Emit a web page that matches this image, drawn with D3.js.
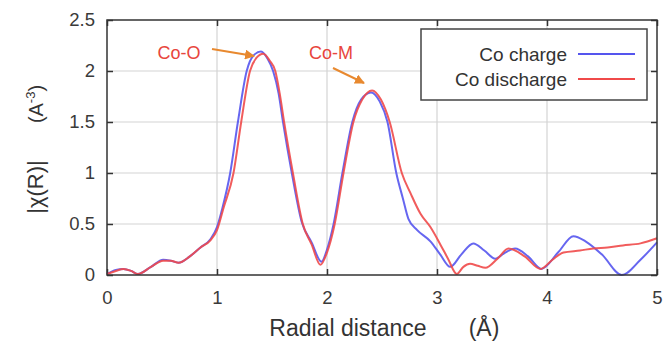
<!DOCTYPE html>
<html><head><meta charset="utf-8">
<script src="https://cdn.jsdelivr.net/npm/d3@7"></script>
<style>body{margin:0;background:#fff}svg{display:block}text{font-family:"Liberation Sans",Arial,sans-serif}</style>
</head><body>
<script>
const xTicks = [0,1,2,3,4,5];
const yTicks = [0,0.5,1,1.5,2,2.5];
const yTickLabels = ["0","0.5","1","1.5","2","2.5"];
const seriesNames = ["Co charge","Co discharge"];
const seriesColors = ["#5555ee","#f04a4a"];

const chargeX = [0,0.08,0.15,0.22,0.28,0.4,0.51,0.58,0.65,0.75,0.85,0.94,1.0,1.05,1.12,1.19,1.27,1.33,1.40,1.46,1.51,1.56,1.60,1.68,1.77,1.86,1.95,2.0,2.06,2.14,2.23,2.31,2.40,2.48,2.55,2.63,2.69,2.74,2.82,2.94,3.03,3.12,3.22,3.33,3.43,3.53,3.62,3.71,3.83,3.95,4.1,4.24,4.35,4.5,4.68,4.85,5.0];
const chargeY = [0.01,0.05,0.06,0.04,0.01,0.08,0.15,0.14,0.12,0.18,0.27,0.35,0.47,0.66,1.0,1.5,2.0,2.15,2.19,2.12,2.0,1.78,1.5,1.0,0.52,0.32,0.13,0.25,0.5,1.0,1.5,1.72,1.79,1.7,1.5,1.0,0.75,0.55,0.44,0.33,0.2,0.08,0.2,0.31,0.24,0.16,0.22,0.26,0.18,0.06,0.22,0.38,0.33,0.2,0.0,0.15,0.32];

const dischargeX = [0,0.08,0.15,0.22,0.28,0.4,0.51,0.58,0.65,0.75,0.85,0.94,1.0,1.06,1.15,1.22,1.30,1.36,1.42,1.48,1.53,1.57,1.61,1.69,1.78,1.86,1.94,2.0,2.07,2.15,2.24,2.32,2.41,2.49,2.57,2.68,2.76,2.85,2.94,3.03,3.10,3.18,3.24,3.30,3.37,3.44,3.55,3.65,3.8,3.94,4.05,4.15,4.3,4.42,4.55,4.69,4.85,5.0];
const dischargeY = [0.01,0.04,0.06,0.04,0.01,0.08,0.14,0.14,0.12,0.18,0.27,0.34,0.44,0.66,1.0,1.5,2.0,2.13,2.17,2.1,2.0,1.78,1.5,1.0,0.5,0.3,0.1,0.22,0.5,1.0,1.5,1.72,1.81,1.72,1.5,1.0,0.8,0.6,0.47,0.3,0.16,0.01,0.08,0.11,0.09,0.07,0.16,0.26,0.18,0.06,0.15,0.22,0.24,0.26,0.27,0.29,0.31,0.36];

const W = 665, H = 346;
const L = 107, R = 657, T = 20, B = 275;
const svg = d3.select("body").append("svg").attr("width", W).attr("height", H);
const x = d3.scaleLinear().domain([0,5]).range([L,R]);
const y = d3.scaleLinear().domain([0,2.5]).range([B,T]);

// grid
const g = svg.append("g");
g.selectAll(".vg").data(xTicks.slice(1,-1)).join("line")
  .attr("x1", d=>x(d)).attr("x2", d=>x(d)).attr("y1", T).attr("y2", B)
  .attr("stroke", "#d4d4d4").attr("stroke-width", 1.2);
g.selectAll(".hg").data(yTicks.slice(1,-1)).join("line")
  .attr("x1", L).attr("x2", R).attr("y1", d=>y(d)).attr("y2", d=>y(d))
  .attr("stroke", "#d4d4d4").attr("stroke-width", 1.2);

// axes with inward ticks
const ax = svg.append("g").attr("transform", `translate(0,${B})`)
  .call(d3.axisBottom(x).tickValues(xTicks).tickSize(-6).tickPadding(16).tickFormat(d3.format("d")));
const axTop = svg.append("g").attr("transform", `translate(0,${T})`)
  .call(d3.axisTop(x).tickValues(xTicks).tickSize(-6).tickFormat(""));
const ay = svg.append("g").attr("transform", `translate(${L},0)`)
  .call(d3.axisLeft(y).tickValues(yTicks).tickSize(-6).tickPadding(12).tickFormat((d,i)=>yTickLabels[i]));
const ayR = svg.append("g").attr("transform", `translate(${R},0)`)
  .call(d3.axisRight(y).tickValues(yTicks).tickSize(-6).tickFormat(""));
[ax,axTop,ay,ayR].forEach(a=>{
  a.select(".domain").remove();
  a.selectAll(".tick line").attr("stroke","#333").attr("stroke-width",1.5);
  a.selectAll("text").attr("font-size",18.5).attr("fill","#3a3a3a").attr("font-family","Liberation Sans, Arial, sans-serif");
});

// data lines
const line = d3.line().x(d=>x(d[0])).y(d=>y(d[1])).curve(d3.curveMonotoneX);
const series = [d3.zip(chargeX, chargeY), d3.zip(dischargeX, dischargeY)];
svg.selectAll(".ser").data(series).join("path")
  .attr("d", line).attr("fill","none")
  .attr("stroke",(d,i)=>seriesColors[i]).attr("stroke-width",2).attr("stroke-opacity",0.9);

// frame
svg.append("rect").attr("x",L).attr("y",T).attr("width",R-L).attr("height",B-T)
  .attr("fill","none").attr("stroke","#333").attr("stroke-width",1.5);

// legend
const lg = svg.append("g");
lg.append("rect").attr("x",421).attr("y",29).attr("width",226).attr("height",71)
  .attr("fill","#fff").attr("stroke","#444").attr("stroke-width",1.5);
seriesNames.forEach((n,i)=>{
  lg.append("text").attr("x",567).attr("y",61+i*25).attr("text-anchor","end")
    .attr("font-size",19).attr("fill","#333").text(n);
  lg.append("line").attr("x1",578).attr("x2",635).attr("y1",54+i*25).attr("y2",54+i*25)
    .attr("stroke",seriesColors[i]).attr("stroke-width",1.8);
});

// axis titles
svg.append("text").attr("x",348).attr("y",336).attr("text-anchor","middle")
  .attr("font-size",23).attr("fill","#333").text("Radial distance");
svg.append("text").attr("x",484).attr("y",336).attr("text-anchor","middle")
  .attr("font-size",23).attr("fill","#333").text("(Å)");
svg.append("text").attr("transform","translate(43,187) rotate(-90)").attr("text-anchor","middle")
  .attr("font-size",22).attr("fill","#333").text("|χ(R)|");
const yl2 = svg.append("text").attr("transform","translate(43,104) rotate(-90)").attr("text-anchor","middle")
  .attr("font-size",20).attr("fill","#333");
yl2.append("tspan").text("(A");
yl2.append("tspan").attr("font-size",13).attr("dy",-8).text("-3");
yl2.append("tspan").attr("dy",8).text(")");

// annotations
svg.append("defs").append("marker").attr("id","arr").attr("viewBox","0 0 10 10")
  .attr("refX",9).attr("refY",5).attr("markerWidth",5).attr("markerHeight",5).attr("orient","auto")
  .append("path").attr("d","M0,0 L10,5 L0,10 z").attr("fill","#e8892f");
const ann = [
  {label:"Co-O", tx:179, ty:59, x1:212, y1:49, x2:254, y2:56},
  {label:"Co-M", tx:331, ty:59, x1:333, y1:68, x2:364, y2:83}
];
ann.forEach(a=>{
  svg.append("text").attr("x",a.tx).attr("y",a.ty).attr("text-anchor","middle")
    .attr("font-size",18).attr("fill","#e8453c").attr("font-family","Open Sans, sans-serif").text(a.label);
  svg.append("line").attr("x1",a.x1).attr("y1",a.y1).attr("x2",a.x2).attr("y2",a.y2)
    .attr("stroke","#e8892f").attr("stroke-width",2).attr("marker-end","url(#arr)");
});
</script>
</body></html>
